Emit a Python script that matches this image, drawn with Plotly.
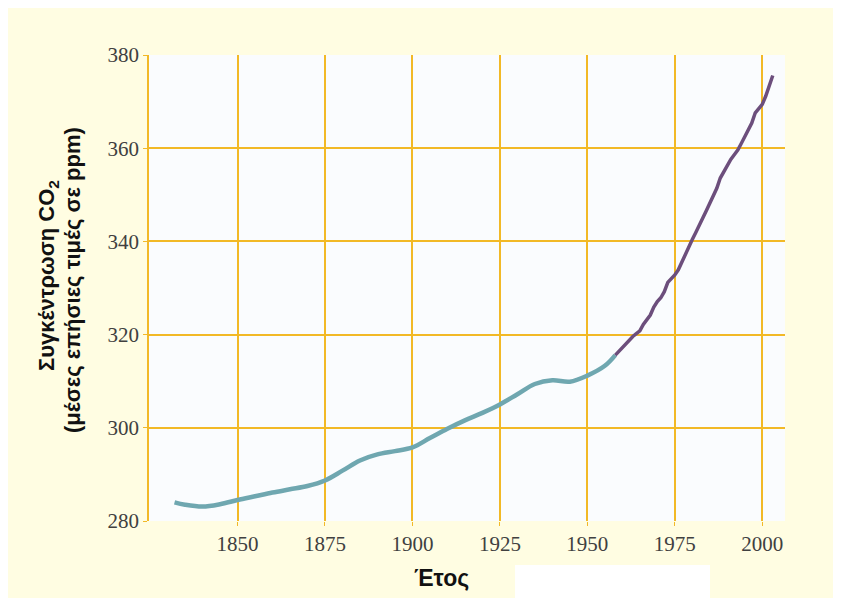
import plotly.graph_objects as go

# Ice-core era
ice_years = [1832, 1835, 1840, 1845, 1850, 1855, 1860, 1865, 1870, 1875, 1880, 1885,
             1890, 1895, 1900, 1905, 1910, 1915, 1920, 1925, 1930, 1935, 1940, 1945,
             1950, 1955, 1958]
ice_ppm = [284.0, 283.5, 283.1, 283.6, 284.5, 285.3, 286.1, 286.8, 287.5, 288.7, 290.8, 293.0,
           294.3, 295.0, 295.8, 297.8, 299.8, 301.6, 303.2, 305.0, 307.2, 309.4, 310.2, 309.9,
           311.2, 313.3, 315.6]

obs_years = list(range(1958, 2004))
obs_ppm = [315.6, 316.4, 317.3, 318.0, 318.9, 319.6, 320.2, 320.8, 322.2, 323.2,
           324.2, 325.9, 327.1, 327.9, 329.2, 331.2, 331.9, 332.8, 333.9, 335.6,
           337.2, 338.7, 340.4, 341.9, 343.3, 345.0, 346.6, 348.1, 349.6, 351.4,
           353.6, 355.0, 356.4, 357.6, 358.6, 359.6, 361.0, 362.6, 364.2, 365.4,
           367.6, 368.6, 369.4, 371.2, 373.4, 375.6]

x_ticks = [1850, 1875, 1900, 1925, 1950, 1975, 2000]
y_ticks = [280, 300, 320, 340, 360, 380]

grid_col = "#F2B927"
tick_font = dict(family="Liberation Serif", size=21, color="#404040")

# plot area in figure pixels
L, R, T, B = 141, 777, 47, 513
PW, PH = R - L, B - T


def px(x):
    return (x - L) / PW


def py(y):
    return (B - y) / PH


fig = go.Figure()
fig.add_trace(go.Scatter(x=ice_years, y=ice_ppm, mode="lines",
                         line=dict(color="#6FA7B0", width=4.5, shape="spline", smoothing=1.0),
                         showlegend=False, hoverinfo="skip"))
fig.add_trace(go.Scatter(x=obs_years, y=obs_ppm, mode="lines",
                         line=dict(color="#6C4E7C", width=3.5),
                         showlegend=False, hoverinfo="skip"))

fig.update_layout(
    width=841, height=598,
    margin=dict(l=L, r=841 - R, t=T, b=598 - B),
    paper_bgcolor="#FFFDE2",
    plot_bgcolor="#FAFCFE",
    xaxis=dict(range=[1824.7, 2006.5], tickvals=x_ticks, ticktext=[str(v) for v in x_ticks],
               showgrid=True, gridcolor=grid_col, gridwidth=1.5, zeroline=False,
               showline=False, ticks="outside", ticklen=4, tickcolor=grid_col,
               tickfont=tick_font),
    yaxis=dict(range=[280, 380], tickvals=y_ticks, ticktext=[str(v) for v in y_ticks],
               showgrid=True, gridcolor=grid_col, gridwidth=1.5, zeroline=False,
               showline=True, linecolor=grid_col, linewidth=1.5,
               ticks="outside", ticklen=4, tickcolor=grid_col,
               tickfont=tick_font),
    shapes=[
        dict(type="rect", xref="paper", yref="paper", x0=px(507), x1=px(702),
             y0=py(620), y1=py(557),
             fillcolor="white", line=dict(width=0), layer="below"),
    ],
    annotations=[
        dict(text="<b>Συγκέντρωση CO<sub>2</sub></b>", xref="paper", yref="paper",
             x=px(40), y=py(268), textangle=-90, showarrow=False,
             font=dict(family="Liberation Sans", size=22, color="#111"),
             xanchor="center", yanchor="middle"),
        dict(text="<b>(μέσες επήσιες τιμές σε ppm)</b>", xref="paper", yref="paper",
             x=px(64), y=py(272), textangle=-90, showarrow=False,
             font=dict(family="Liberation Sans", size=22, color="#111"),
             xanchor="center", yanchor="middle"),
        dict(text="<b>Έτος</b>", xref="paper", yref="paper",
             x=px(433), y=py(570), showarrow=False,
             font=dict(family="Liberation Sans", size=23, color="#111"),
             xanchor="center", yanchor="middle"),
    ],
)

fig.write_html("out.html")
